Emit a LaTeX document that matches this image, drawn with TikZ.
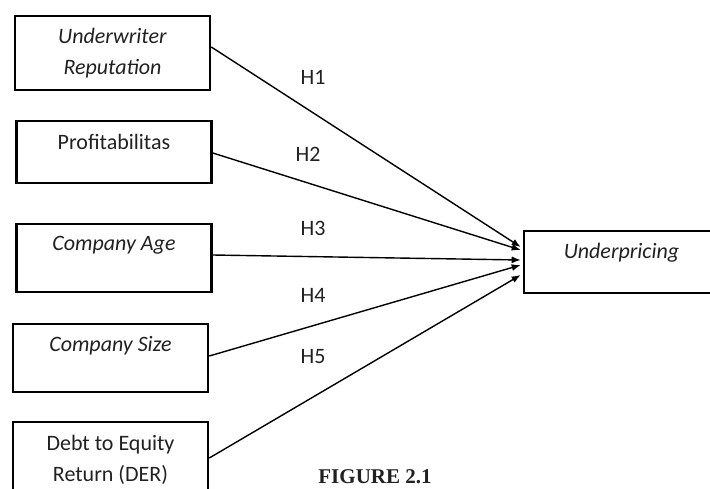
\documentclass[tikz,border=0pt]{standalone}
\usepackage{fontspec}
\setmainfont{Carlito}
\newfontfamily\captionfont{Liberation Serif}
\usepackage{tikz}
\usetikzlibrary{arrows.meta}
\pgfdeclarelayer{nodelayer}
\pgfdeclarelayer{edgelayer}
\pgfsetlayers{nodelayer,edgelayer,main}
\definecolor{ink}{gray}{0.13}
\tikzset{
    none/.style = {inner sep=0pt, text=ink},
    box/.style = {draw, line width=2.6pt, minimum width=195pt, inner sep=0pt, align=center, text=ink, text height=15pt, text depth=20pt},
    edge/.style = {line width=1.4pt, -{Latex[length=9pt,width=7pt]}}
}

\begin{document}
\begin{tikzpicture}[x=1pt, y=-1pt, every node/.style={font=\fontsize{22}{31}\selectfont}]
  \useasboundingbox (0, 0) rectangle (710, 488);
  \begin{pgfonlayer}{nodelayer}
    \node [style=box, minimum height=74pt, text height=, text depth=] (0) at (112.5, 53) {\textit{Underwriter}\\\textit{Reputation}};
    \node [style=box, minimum height=62pt] (1) at (114, 152) {Profitabilitas};
    \node [style=box, minimum height=68pt, text depth=30pt] (2) at (114, 258) {\textit{Company Age}};
    \node [style=box, minimum height=68pt, text depth=29pt] (3) at (110.5, 358) {\textit{Company Size}};
    \node [style=box, minimum height=76pt, text height=, text depth=] (4) at (110.5, 460) {Debt to Equity\\Return (DER)};
    \node [style=box, minimum height=62pt, text depth=22pt] (5) at (621.5, 262) {\textit{Underpricing}};
    \node [style=none] (6) at (313, 77) {H1};
    \node [style=none] (7) at (308, 154) {H2};
    \node [style=none] (8) at (313, 228) {H3};
    \node [style=none] (9) at (313, 295) {H4};
    \node [style=none] (10) at (313, 357) {H5};
    \node [style=none, anchor=base, font=\captionfont\bfseries\fontsize{21}{26}\selectfont] (11) at (375, 483) {FIGURE 2.1};
  \end{pgfonlayer}
  \begin{pgfonlayer}{edgelayer}
    \draw [style=edge] ([yshift=6pt]0.east) to ([xshift=-2pt, yshift=15pt]5.west);
    \draw [style=edge] ([yshift=-1pt]1.east) to ([xshift=-2pt, yshift=12pt]5.west);
    \draw [style=edge] ([yshift=3pt]2.east) to ([xshift=-2pt, yshift=2pt]5.west);
    \draw [style=edge] ([yshift=2pt]3.east) to ([xshift=-2pt, yshift=-3pt]5.west);
    \draw [style=edge] ([yshift=2pt]4.east) to ([xshift=-2pt, yshift=-13pt]5.west);
  \end{pgfonlayer}
\end{tikzpicture}
\end{document}
